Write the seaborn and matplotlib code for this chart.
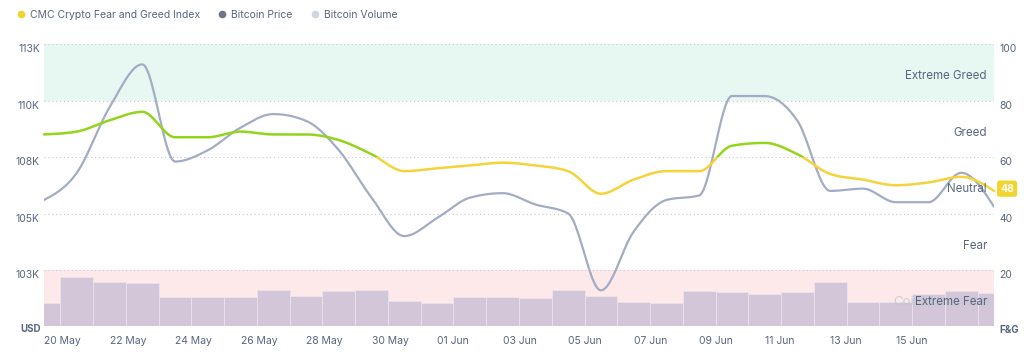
import numpy as np
import pandas as pd
import matplotlib
matplotlib.use("Agg")
import matplotlib.pyplot as plt
import matplotlib.transforms as mtransforms
from matplotlib.lines import Line2D
from matplotlib.patches import Rectangle
import seaborn as sns

# ---------- data ----------
days = ["20 May", "21 May", "22 May", "23 May", "24 May", "25 May", "26 May",
        "27 May", "28 May", "29 May", "30 May", "31 May", "01 Jun", "02 Jun",
        "03 Jun", "04 Jun", "05 Jun", "06 Jun", "07 Jun", "08 Jun", "09 Jun",
        "10 Jun", "11 Jun", "12 Jun", "13 Jun", "14 Jun", "15 Jun", "16 Jun",
        "17 Jun", "18 Jun"]
fear_greed = [68, 69, 73, 76, 67, 67, 69, 68, 68, 66, 61, 55, 56, 57, 58,
              57, 55, 47, 52, 55, 55, 64, 65, 61, 54, 52, 50, 51, 53, 48]
price_k = [106.1, 107.3, 110.2, 112.1, 107.8, 108.3, 109.3, 109.9, 109.6,
           108.3, 106.2, 104.5, 105.3, 106.2, 106.4, 105.9, 105.5, 102.1,
           104.7, 106.1, 106.3, 110.7, 110.7, 109.6, 106.5, 106.6, 106.0,
           106.0, 107.3, 105.8]
volume_b = [28, 60, 53, 52, 35, 36, 35, 44, 37, 43, 44, 30, 28, 35, 35,
            34, 44, 37, 29, 28, 43, 42, 39, 42, 53, 29, 29, 39, 43, 40]
tick_labels = ["20 May", "22 May", "24 May", "26 May", "28 May", "30 May",
               "01 Jun", "03 Jun", "05 Jun", "07 Jun", "09 Jun", "11 Jun",
               "13 Jun", "15 Jun"]
zones = ["Extreme Fear", "Fear", "Neutral", "Greed", "Extreme Greed"]
price_ticks = [103, 105.5, 108, 110.5, 113]
price_tick_labels = ["103K", "105K", "108K", "110K", "113K"]
fg_ticks = [20, 40, 60, 80, 100]

TXT = "#58667e"
GREEN = "#93d41c"
YELLOW = "#f4d43a"
PRICE_C = "#a3acc3"
VOL_C = "#d3c6d8"


def monotone_curve(vals, steps=24):
    # monotone cubic drawing of the daily points (like d3 curveMonotoneX)
    y = np.asarray(vals, float)
    n = len(y)
    s = np.diff(y)
    t = np.zeros(n)
    for i in range(1, n - 1):
        s0, s1 = s[i - 1], s[i]
        p = (s0 + s1) / 2
        t[i] = (np.sign(s0) + np.sign(s1)) * min(abs(s0), abs(s1), 0.5 * abs(p))
    t[0] = (3 * s[0] - t[1]) / 2
    t[-1] = (3 * s[-1] - t[-2]) / 2
    xs, ys = [], []
    u = np.linspace(0, 1, steps, endpoint=False)
    for i in range(n - 1):
        h00 = 2 * u**3 - 3 * u**2 + 1
        h10 = u**3 - 2 * u**2 + u
        h01 = -2 * u**3 + 3 * u**2
        h11 = u**3 - u**2
        ys.append(h00 * y[i] + h10 * t[i] + h01 * y[i + 1] + h11 * t[i + 1])
        xs.append(i + u)
    xs.append([n - 1])
    ys.append([y[-1]])
    return np.concatenate(xs), np.concatenate(ys)


sns.set_style("white")
plt.rcParams["font.family"] = ["Inter", "DejaVu Sans"]

pos = np.arange(len(days))
df = pd.DataFrame({"pos": pos, "day": days, "fg": fear_greed,
                   "price": price_k, "volume": volume_b})

fig = plt.figure(figsize=(10.24, 3.58), dpi=100)
ax = fig.add_axes([0.043, 0.088, 0.9277, 0.789])

# zone bands + dotted grid (F&G scale)
ax.axhspan(80, 100, color="#e7f7f1", lw=0, zorder=0)
ax.axhspan(0, 20, color="#fde9e9", lw=0, zorder=0)
for v in [0] + fg_ticks:
    ax.axhline(v, color="#c6cad3", lw=0.8, ls=(0, (1, 2.5)), zorder=1)
ax.set_ylim(0, 100)
ax.set_yticks([])
for sp in ax.spines.values():
    sp.set_visible(False)

# ---------- volume bars ----------
ax_vol = ax.twinx()
sns.barplot(data=df, x="pos", y="volume", native_scale=True, width=1,
            color=VOL_C, saturation=1, edgecolor="#ece6ee", linewidth=0.5,
            ax=ax_vol)
ax_vol.set_ylim(0, 339)
ax_vol.set_axis_off()

# ---------- bitcoin price ----------
ax_price = ax.twinx()
px, py = monotone_curve(price_k)
sns.lineplot(x=px, y=py, color=PRICE_C, lw=1.6, ax=ax_price)
ax_price.set_ylim(100.5, 113)
ax_price.yaxis.tick_left()
ax_price.set_yticks(price_ticks)
ax_price.set_yticklabels(price_tick_labels, va="top")
ax_price.tick_params(axis="y", length=0, pad=3, labelsize=7.5, labelcolor=TXT)
ax_price.set_ylabel("")
for sp in ax_price.spines.values():
    sp.set_visible(False)

# ---------- fear & greed ----------
ax_fg = ax.twinx()
fx, fy = monotone_curve(fear_greed)
sns.lineplot(x=fx, y=fy, color=GREEN, lw=1.8, ax=ax_fg)
ax_fg.lines[-1].set_clip_path(Rectangle((-1, 60), 32, 50, transform=ax_fg.transData))
sns.lineplot(x=fx, y=fy, color=YELLOW, lw=1.8, ax=ax_fg)
ax_fg.lines[-1].set_clip_path(Rectangle((-1, -10), 32, 70, transform=ax_fg.transData))
ax_fg.set_ylim(0, 100)
ax_fg.set_yticks(fg_ticks)
ax_fg.set_yticklabels([str(v) for v in fg_ticks], va="top")
ax_fg.tick_params(axis="y", length=0, pad=4, labelsize=7.5, labelcolor=TXT)
ax_fg.set_ylabel("")
for sp in ax_fg.spines.values():
    sp.set_visible(False)

blend = mtransforms.blended_transform_factory(ax_fg.transAxes, ax_fg.transData)
ax_fg.text(0.8937, 8.8, "CoinMarketCap", transform=blend, ha="left", va="center",
           fontsize=9.5, color="#c3c7d0", alpha=0.8, zorder=1)
for i, z in enumerate(zones):
    ax_fg.text(0.9926, 10 + 20 * i - 1.4, z, transform=blend, ha="right",
               va="center", fontsize=8.3, color=TXT, zorder=3)
ax_fg.text(1.0065, fear_greed[-1] + 0.8, str(fear_greed[-1]), transform=blend,
           ha="left", va="center", fontsize=7.5, fontweight="bold",
           color="white", zorder=5,
           bbox=dict(boxstyle="round,pad=0.3,rounding_size=0.25",
                     fc="#f3d42f", ec="none"))

# x axis (shared by all twins)
ax.set_xlim(0, len(days) - 1)
ax.set_xticks(pos[::2][:len(tick_labels)])
ax.set_xticklabels(tick_labels, ha="left")
ax.tick_params(axis="x", length=0, pad=6.5, labelsize=7.5, labelcolor=TXT)
ax.set_xlabel("")

fig.text(41 / 1024, 1 - 329 / 358, "USD", ha="right", va="center",
         fontsize=7, fontweight="bold", color=TXT)
fig.text(999 / 1024, 1 - 330 / 358, "F&G", ha="left", va="center",
         fontsize=7, fontweight="bold", color=TXT)

handles = [
    Line2D([], [], marker="o", ls="", color="#f3d42f", markersize=4.5,
           label="CMC Crypto Fear and Greed Index"),
    Line2D([], [], marker="o", ls="", color="#6f7587", markersize=4.5,
           label="Bitcoin Price"),
    Line2D([], [], marker="o", ls="", color="#d0d5e2", markersize=4.5,
           label="Bitcoin Volume"),
]
fig.legend(handles=handles, loc="center left", bbox_to_anchor=(0.007, 0.958),
           ncol=3, frameon=False, fontsize=7.5, labelcolor=TXT,
           handlelength=0.8, handletextpad=0.5, columnspacing=1.7)

fig.savefig("out.png", dpi=100)
